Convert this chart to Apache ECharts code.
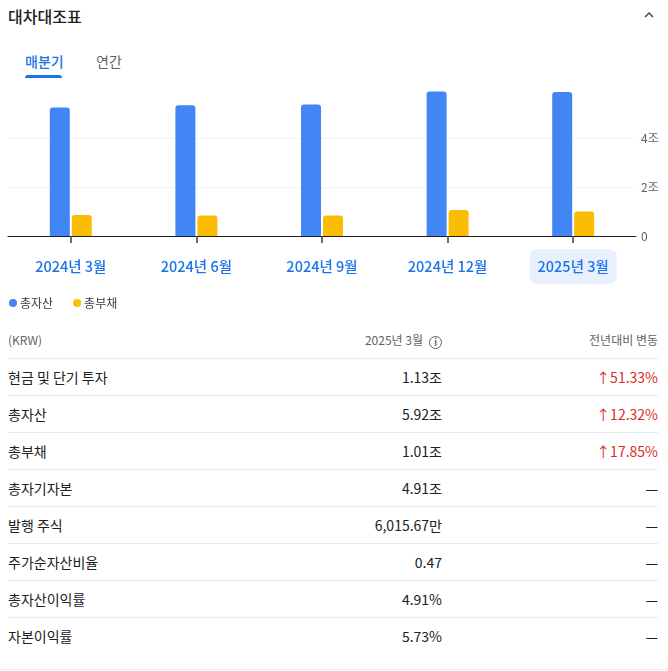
<!DOCTYPE html>
<html><head><meta charset="utf-8">
<script src="https://cdn.jsdelivr.net/npm/echarts@6/dist/echarts.min.js"></script>
<style>
html,body{margin:0;padding:0;background:#fff;width:668px;height:671px;overflow:hidden;font-family:"Noto Sans CJK KR","Noto Sans",Roboto,sans-serif;color:#202124;}
.abs{position:absolute;}
#title{left:8px;top:4px;font-size:16px;font-weight:500;line-height:24px;}
#chev{left:640px;top:6px;width:18px;height:18px;}
.tab{top:51px;font-size:14px;line-height:20px;font-weight:500;}
#t1{left:25px;color:#1a73e8;}
#t2{left:96px;color:#5f6368;font-weight:400;}
#ul{left:25px;top:75px;width:37px;height:3px;background:#1a73e8;border-radius:3px 3px 0 0;}
#chart{left:0;top:80px;width:668px;height:240px;}
#table{left:8px;top:322px;width:650px;}
.row{position:relative;height:36px;border-bottom:1px solid #e8eaed;font-size:14px;}
.row.last{border-bottom:none;}
.row span{position:absolute;top:0;line-height:36px;white-space:nowrap;}
.c1{left:0;}
.c2{right:216px;text-align:right;}
.c3{right:0;text-align:right;}
.hdr{font-size:12px;color:#5f6368;}
.up{color:#d93025;}
.info{display:inline-block;width:11px;height:11px;border:1.3px solid #5f6368;border-radius:50%;font-size:9px;line-height:11px;text-align:center;vertical-align:-1px;margin-left:6px;font-weight:700;color:#5f6368;}
#bottom{left:0;top:669px;width:668px;height:1px;background:#e8eaed;}
</style></head><body>
<div id="title" class="abs">대차대조표</div>
<svg id="chev" class="abs" viewBox="0 0 24 24"><path d="M7.4 15.4 12 10.8l4.6 4.6L18 14l-6-6-6 6z" fill="#3c4043"/></svg>
<div id="t1" class="abs tab">매분기</div>
<div id="t2" class="abs tab">연간</div>
<div id="ul" class="abs"></div>
<div id="chart" class="abs"></div>
<div id="table" class="abs"></div>
<div id="bottom" class="abs"></div>
<script>
const categories = ['2024년 3월', '2024년 6월', '2024년 9월', '2024년 12월', '2025년 3월'];
const totalAssets = [5.28, 5.37, 5.40, 5.94, 5.92];
const totalLiabilities = [0.86, 0.84, 0.84, 1.07, 1.01];
const seriesNames = ['총자산', '총부채'];
const yMax = 6;
const yInterval = 2;

const headerCells = ['(KRW)', '2025년 3월', '전년대비 변동'];
const rowLabels = ['현금 및 단기 투자', '총자산', '총부채', '총자기자본', '발행 주식', '주가순자산비율', '총자산이익률', '자본이익률'];
const rowValues = ['1.13조', '5.92조', '1.01조', '4.91조', '6,015.67만', '0.47', '4.91%', '5.73%'];
const rowChanges = ['51.33%', '12.32%', '17.85%', null, null, null, null, null];

// table
const tbl = document.getElementById('table');
let html = '<div class="row hdr"><span class="c1">' + headerCells[0] + '</span><span class="c2">' + headerCells[1] +
  '<span class="info" style="position:static;line-height:11px">i</span></span><span class="c3">' + headerCells[2] + '</span></div>';
rowLabels.forEach((l, i) => {
  const ch = rowChanges[i] ? '<span class="c3 up">↑' + rowChanges[i] + '</span>' : '<span class="c3">—</span>';
  html += '<div class="row' + (i === rowLabels.length - 1 ? ' last' : '') + '"><span class="c1">' + l + '</span><span class="c2">' + rowValues[i] + '</span>' + ch + '</div>';
});
tbl.innerHTML = html;

const chart = echarts.init(document.getElementById('chart'), null, {renderer: 'canvas'});
const lblBase = {color: '#1a73e8', fontSize: 14.5, fontWeight: 500, padding: [10, 8], lineHeight: 17, fontFamily: '"Noto Sans CJK KR", sans-serif'};
chart.setOption({
  animation: false,
  textStyle: {fontFamily: '"Noto Sans CJK KR", "Noto Sans", sans-serif'},
  legend: {
    left: 4, top: 212, icon: 'circle', itemWidth: 8, itemHeight: 8, itemGap: 20,
    textStyle: {fontSize: 12, color: '#3c4043', padding: [0, 0, 0, -2]},
    data: seriesNames
  },
  grid: {left: 8, right: 32, top: 10, bottom: 84, containLabel: false},
  xAxis: {
    type: 'category', data: categories,
    axisLine: {show: true, lineStyle: {color: '#202124', width: 1.2}},
    axisTick: {show: true, interval: 0, alignWithLabel: true, length: 7, lineStyle: {color: '#3c4043', width: 1.5}},
    axisLabel: {
      interval: 0, margin: 22,
      formatter: (v, i) => (i === categories.length - 1 ? '{sel|' + v + '}' : '{n|' + v + '}'),
      rich: {
        n: lblBase,
        sel: Object.assign({}, lblBase, {backgroundColor: '#e8f0fe', borderRadius: 7})
      }
    }
  },
  yAxis: {
    type: 'value', position: 'right', min: 0, max: yMax, interval: yInterval,
    axisLine: {show: false}, axisTick: {show: false},
    axisLabel: {
      margin: 5, color: '#5f6368', fontSize: 12,
      formatter: v => (v === 0 ? '0' : v >= yMax ? '' : v + '조')
    },
    splitLine: {lineStyle: {color: ['#f1f3f4', '#f1f3f4', '#f1f3f4', 'rgba(0,0,0,0)'], width: 1}}
  },
  series: [
    {name: seriesNames[0], type: 'bar', data: totalAssets, barWidth: 20, barGap: '10%',
     itemStyle: {color: '#4285f4', borderRadius: [3, 3, 0, 0]}},
    {name: seriesNames[1], type: 'bar', data: totalLiabilities, barWidth: 20, barGap: '10%',
     itemStyle: {color: '#fbbc04', borderRadius: [3, 3, 0, 0]}}
  ]
});
</script>
</body></html>
